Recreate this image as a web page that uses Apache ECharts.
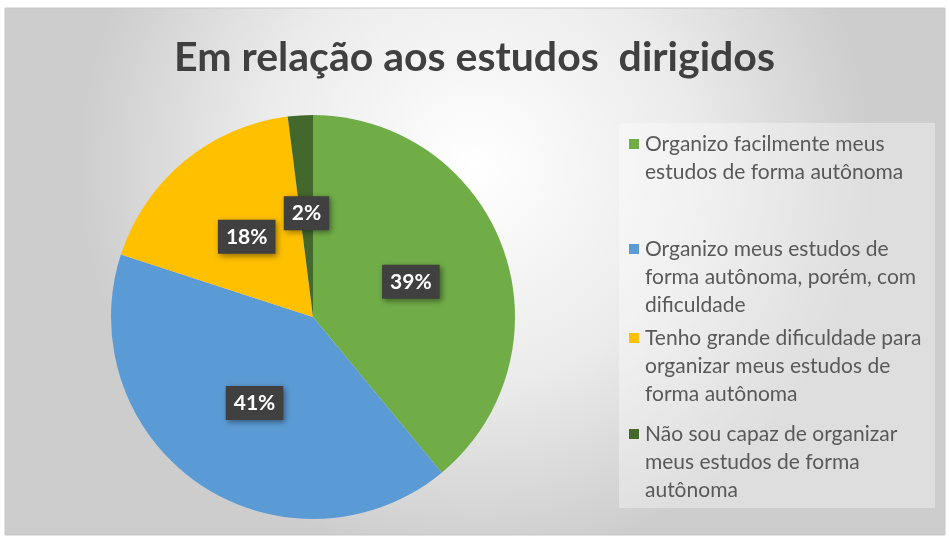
<!DOCTYPE html>
<html>
<head>
<meta charset="utf-8">
<style>
  html, body { margin: 0; padding: 0; background: #fff; }
  #chart { width: 949px; height: 544px; }
</style>
</head>
<body>
<div id="chart"></div>
<script src="https://cdn.jsdelivr.net/npm/echarts@6/dist/echarts.min.js"></script>
<script>
  const chart = echarts.init(document.getElementById('chart'));

  const categories = [
    'Organizo facilmente meus estudos de forma autônoma',
    'Organizo meus estudos de forma autônoma, porém, com dificuldade',
    'Tenho grande dificuldade para organizar meus estudos de forma autônoma',
    'Não sou capaz de organizar meus estudos de forma autônoma'
  ];
  // legend text as wrapped in the picture
  const legendLines = [
    ['Organizo facilmente meus', 'estudos de forma autônoma'],
    ['Organizo meus estudos de', 'forma autônoma, porém, com', 'dificuldade'],
    ['Tenho grande dificuldade para', 'organizar meus estudos de', 'forma autônoma'],
    ['Não sou capaz de organizar', 'meus estudos de forma', 'autônoma']
  ];
  const values = [39, 41, 18, 2];
  const colors = ['#70AD47', '#5B9BD5', '#FFC000', '#43682B'];
  const legendTops = [130, 235, 324, 420];

  const font = 'Lato';
  const lineH = 28;

  // one legend per entry so the gaps match; icon path keeps the square on the first line
  const legends = categories.map((name, i) => {
    const n = legendLines[i].length;
    const h = n * lineH - 18;
    return {
      data: [name],
      orient: 'vertical',
      left: 629,
      top: legendTops[i],
      padding: 0,
      itemWidth: 10,
      itemHeight: h,
      itemGap: 0,
      icon: 'path://M0,0H10V10H0Z M0,' + h,
      selectedMode: false,
      formatter: nm => legendLines[categories.indexOf(nm)].join('\n'),
      textStyle: {
        fontFamily: font,
        fontSize: 21,
        lineHeight: lineH,
        color: '#595959',
        padding: [0, 0, 0, 1]
      }
    };
  });

  const option = {
    animation: false,
    color: colors,
    graphic: [
      {
        type: 'rect',
        z: -10,
        shape: { x: 5, y: 8, width: 940, height: 527 },
        style: {
          fill: new echarts.graphic.RadialGradient(0.5, 0.3, 0.75, [
            { offset: 0, color: '#ffffff' },
            { offset: 0.55, color: '#ebebeb' },
            { offset: 1, color: '#cdcdcd' }
          ]),
          stroke: '#c8c8c8',
          lineWidth: 1
        }
      },
      {
        type: 'rect',
        z: -9,
        shape: { x: 619, y: 123, width: 316, height: 385 },
        style: { fill: 'rgba(255,255,255,0.35)' }
      }
    ],
    title: {
      text: 'Em relação aos estudos  dirigidos',
      left: 'center',
      top: 32,
      textStyle: {
        fontFamily: font,
        fontSize: 41,
        fontWeight: 'bold',
        color: '#404040'
      }
    },
    legend: legends,
    series: [
      {
        type: 'pie',
        center: [313, 317],
        radius: 202,
        startAngle: 90,
        clockwise: true,
        label: {
          position: 'inside',
          formatter: p => p.value + '%',
          color: '#ffffff',
          fontFamily: font,
          fontSize: 21,
          fontWeight: 'bold',
          backgroundColor: '#404040',
          padding: [7, 8, 6, 8],
          shadowBlur: 6,
          shadowColor: 'rgba(0,0,0,0.45)',
          shadowOffsetX: 2,
          shadowOffsetY: 2
        },
        labelLine: { show: false },
        itemStyle: { borderWidth: 0 },
        emphasis: { disabled: true },
        data: categories.map((c, i) => ({ name: c, value: values[i] }))
      }
    ]
  };

  chart.setOption(option);
</script>
</body>
</html>
